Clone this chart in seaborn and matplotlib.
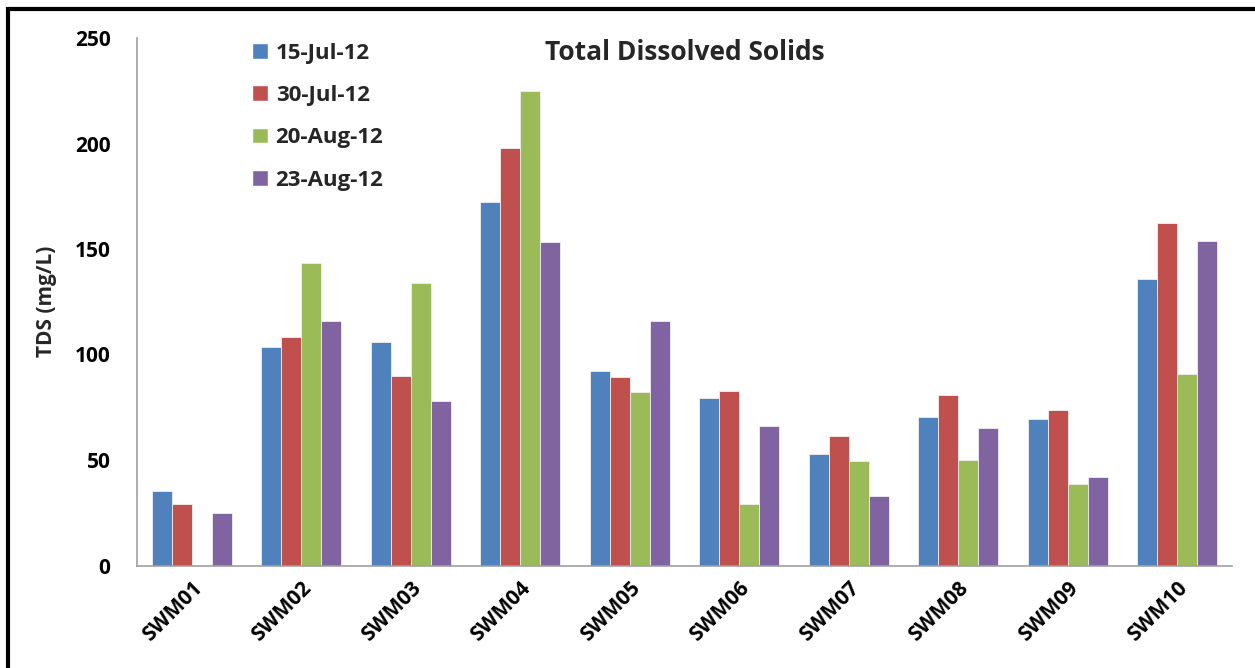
import numpy as np
import pandas as pd
import matplotlib
matplotlib.use("Agg")
import matplotlib.pyplot as plt
import seaborn as sns
from matplotlib.patches import Rectangle, Patch

# Sampling sites and survey dates
sites = ["SWM01", "SWM02", "SWM03", "SWM04", "SWM05",
         "SWM06", "SWM07", "SWM08", "SWM09", "SWM10"]
dates = ["15-Jul-12", "30-Jul-12", "20-Aug-12", "23-Aug-12"]

# Total dissolved solids (mg/L) per survey date
tds_15jul = [35.3, 103.5, 105.9, 172.3, 92.4, 79.6, 53.0, 70.6, 69.3, 135.8]
tds_30jul = [29.3, 108.2, 90.0, 197.7, 89.3, 82.8, 61.4, 80.9, 73.6, 162.3]
tds_20aug = [0.0, 143.5, 133.9, 225.0, 82.2, 29.3, 49.4, 49.9, 38.5, 90.7]
tds_23aug = [25.0, 115.7, 77.9, 153.3, 116.1, 66.3, 33.0, 65.1, 42.1, 153.8]

colors = ["#4F81BD", "#C0504D", "#9BBB59", "#8064A2"]

rows = []
for d, vals in zip(dates, [tds_15jul, tds_30jul, tds_20aug, tds_23aug]):
    for s, v in zip(sites, vals):
        rows.append({"Site": s, "Date": d, "TDS": v})
df = pd.DataFrame(rows)

sns.set_theme(style="white")
plt.rcParams["font.family"] = ["Open Sans", "DejaVu Sans"]

W, H = 1255, 668
fig = plt.figure(figsize=(W / 100, H / 100), dpi=100)
ax = fig.add_axes([137 / W, (H - 565.5) / H, (1232 - 137) / W, (565.5 - 38) / H])

sns.barplot(data=df, x="Site", y="TDS", hue="Date", order=sites, hue_order=dates,
            palette=colors, width=0.73, ax=ax, saturation=1,
            edgecolor="#f0f0f0", linewidth=0.6, legend=False)

ax.set_xlim(-0.5, len(sites) - 0.5)
ax.set_ylim(0, 250)
ax.set_yticks(np.arange(0, 251, 50))
ax.set_yticklabels([str(v) for v in range(0, 251, 50)], fontsize=15, fontweight="bold")
ax.set_xticks(range(len(sites)))
ax.set_xticklabels(sites, rotation=45, ha="right", rotation_mode="anchor",
                   fontsize=15, fontweight="bold")
ax.set_xticks(np.arange(-0.5, len(sites), 1.0), minor=True)
ax.tick_params(axis="x", which="major", length=0, pad=9)
ax.tick_params(axis="x", which="minor", length=6, width=1, color="#a0a0a0", direction="out")
ax.tick_params(axis="y", length=6, width=1, color="#a0a0a0", direction="out", pad=13)
ax.tick_params(which="both", labelcolor="black")

for side in ["top", "right"]:
    ax.spines[side].set_visible(False)
for side in ["left", "bottom"]:
    ax.spines[side].set_color("#a0a0a0")
    ax.spines[side].set_linewidth(1.2)

ax.set_xlabel("")
ax.set_ylabel("TDS (mg/L)", fontsize=15, fontweight="bold")
ax.yaxis.set_label_coords(-80 / (1232 - 137), 0.5)

ax.text(0.5, 0.973, "Total Dissolved Solids", transform=ax.transAxes,
        ha="center", va="center", fontsize=19, fontweight="bold")

handles = [Patch(facecolor=c, edgecolor="white") for c in colors]
leg = ax.legend(handles, dates, loc="upper left", bbox_to_anchor=(106 / 1095, 1.008),
                frameon=False, prop={"weight": "bold", "size": 16},
                handlelength=0.72, handleheight=0.72, handletextpad=0.35,
                labelspacing=0.96, borderaxespad=0.0)

# Outer frame around the chart area
fig.patches.append(Rectangle((8 / W, -0.05), 1.1, (H - 9) / H + 0.05,
                             transform=fig.transFigure, fill=False,
                             edgecolor="black", linewidth=3))

fig.savefig("out.png", dpi=100)
